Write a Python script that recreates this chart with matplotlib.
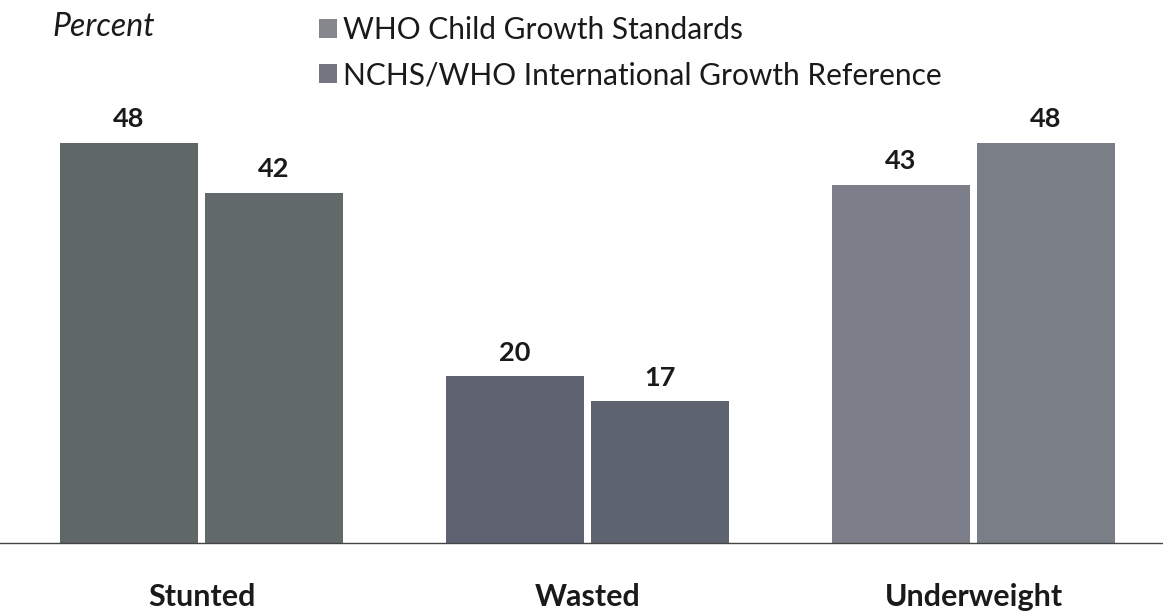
import numpy as np
import matplotlib.pyplot as plt
from matplotlib.patches import Patch

# Prevalence of undernutrition under the two growth references
categories = ['Stunted', 'Wasted', 'Underweight']
series_names = ['WHO Child Growth Standards', 'NCHS/WHO International Growth Reference']
who_standards = [48, 20, 43]
nchs_reference = [42, 17, 48]

# scanned greys, slightly different per group
colors_who = ['#5f6866', '#5f6371', '#7c7f89']
colors_nchs = ['#626a69', '#5d6470', '#7a7e87']
legend_colors = ['#86878c', '#767682']

plt.rcParams['font.family'] = ['Lato', 'DejaVu Sans']

fig = plt.figure(figsize=(11.63, 6.13), dpi=100)
ax = fig.add_axes([0, 0.1142, 1, 0.6797])

x = np.arange(len(categories))
width = 0.3575
offset = 0.1878

bars1 = ax.bar(x - offset, who_standards, width, color=colors_who)
bars2 = ax.bar(x + offset, nchs_reference, width, color=colors_nchs)

for bars, vals in [(bars1, who_standards), (bars2, nchs_reference)]:
    for b, v in zip(bars, vals):
        ax.annotate(str(v), (b.get_x() + b.get_width() / 2, v),
                    xytext=(0, 17), textcoords='offset points',
                    ha='center', va='center', fontsize=19.5, fontweight='bold',
                    color='#1a1a1a', annotation_clip=False)

for xi, cat in zip(x, categories):
    ax.annotate(cat, (xi, 0), xytext=(0, -39), textcoords='offset points',
                ha='center', va='center', fontsize=22, fontweight='bold',
                color='#1a1a1a', annotation_clip=False)

ax.set_xlim(-0.522, 2.491)
ax.set_ylim(0, 50)
for s in ['top', 'left', 'right']:
    ax.spines[s].set_visible(False)
ax.spines['bottom'].set_color('#444444')
ax.spines['bottom'].set_linewidth(1.0)
ax.set_xticks([])
ax.set_yticks([])
ax.patch.set_visible(False)

fig.text(52 / 1163, 1 - 27 / 613, 'Percent', fontsize=23, style='italic',
         ha='left', va='center', color='#1a1a1a')

handles = [Patch(facecolor=c) for c in legend_colors]
fig.legend(handles, series_names, loc='upper left',
           bbox_to_anchor=(304 / 1163, 1 - 1 / 613), frameon=False,
           fontsize=21.5, handlelength=0.6, handleheight=0.6,
           handletextpad=0.2, labelspacing=0.58, borderpad=0.0,
           labelcolor='#1a1a1a')

fig.savefig('out.png', dpi=100)
